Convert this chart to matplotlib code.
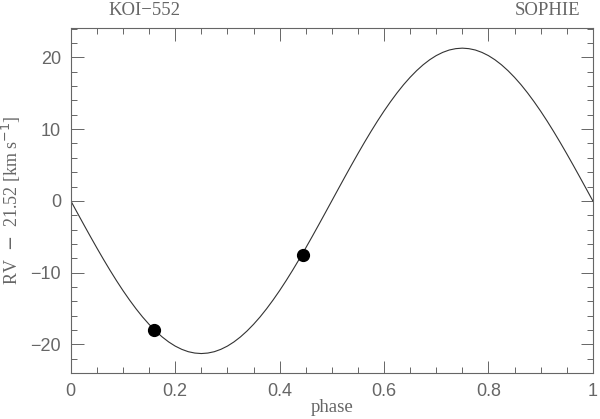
import matplotlib.pyplot as plt
from matplotlib.ticker import MultipleLocator

# orbital model curve (phase, RV), step 0.0125 in phase
phase_curve = [i / 80 for i in range(81)]
rv_curve = [0.0, -1.67, -3.33, -4.97, -6.58, -8.15, -9.67, -11.13, -12.52, -13.83,
            -15.06, -16.20, -17.23, -18.16, -18.98, -19.68, -20.26, -20.71, -21.04, -21.23,
            -21.30, -21.23, -21.04, -20.71, -20.26, -19.68, -18.98, -18.16, -17.23, -16.20,
            -15.06, -13.83, -12.52, -11.13, -9.67, -8.15, -6.58, -4.97, -3.33, -1.67,
            0.0, 1.67, 3.33, 4.97, 6.58, 8.15, 9.67, 11.13, 12.52, 13.83,
            15.06, 16.20, 17.23, 18.16, 18.98, 19.68, 20.26, 20.71, 21.04, 21.23,
            21.30, 21.23, 21.04, 20.71, 20.26, 19.68, 18.98, 18.16, 17.23, 16.20,
            15.06, 13.83, 12.52, 11.13, 9.67, 8.15, 6.58, 4.97, 3.33, 1.67, 0.0]

# measured points
phase_obs = [0.16, 0.445]
rv_obs = [-18.0, -7.5]

x_ticks = [0, 0.2, 0.4, 0.6, 0.8, 1]
x_ticklabels = ['0', '0.2', '0.4', '0.6', '0.8', '1']
y_ticks = [-20, -10, 0, 10, 20]
y_ticklabels = ['\u221220', '\u221210', '0', '10', '20']

grey = '#666666'
fig = plt.figure(figsize=(6.0, 4.19), dpi=100)
ax = fig.add_axes([0.118, 0.110, 0.870, 0.823])

ax.plot(phase_curve, rv_curve, color='#333333', lw=0.8)
ax.plot(phase_obs, rv_obs, 'o', color='black', ms=8.5)

ax.set_xlim(0, 1)
ax.set_ylim(-24, 24.1)
ax.set_xticks(x_ticks)
ax.set_xticklabels(x_ticklabels, family='Liberation Sans')
ax.set_yticks(y_ticks)
ax.set_yticklabels(y_ticklabels, family='Liberation Sans')
ax.xaxis.set_minor_locator(MultipleLocator(0.05))
ax.yaxis.set_minor_locator(MultipleLocator(2))
ax.tick_params(which='both', direction='in', top=True, right=True,
               color=grey, labelcolor=grey, labelsize=13, pad=7)
ax.tick_params(which='major', length=9, width=0.7)
ax.tick_params(which='minor', length=4.5, width=0.7)
for s in ax.spines.values():
    s.set_color(grey)
    s.set_linewidth(0.8)

ax.set_xlabel('phase', color=grey, fontsize=13.5, family='Liberation Serif', va='center')
ax.set_ylabel('RV  $-$  21.52 [km s$^{-1}$]', color=grey, fontsize=13,
              family='Liberation Serif', va='center')
ax.xaxis.set_label_coords(0.5, -0.101)
ax.yaxis.set_label_coords(-0.113, 0.5)

ax.text(0.142, 1.05, 'KOI\u2212552', transform=ax.transAxes, ha='center', va='center',
        color=grey, fontsize=13.5, family='Liberation Serif')
ax.text(0.914, 1.05, 'SOPHIE', transform=ax.transAxes, ha='center', va='center',
        color=grey, fontsize=13.5, family='Liberation Serif')

fig.savefig('out.png', dpi=100)
